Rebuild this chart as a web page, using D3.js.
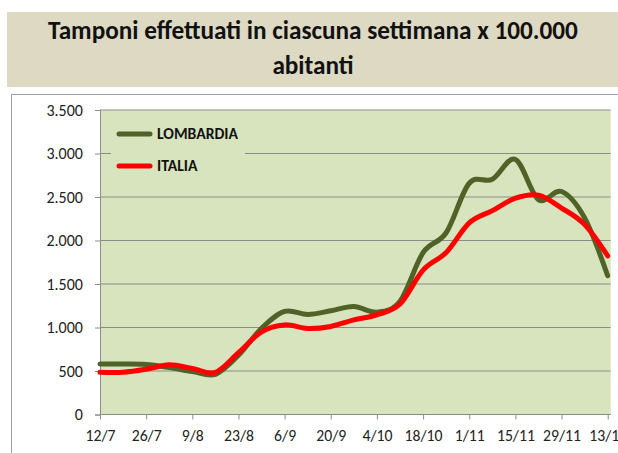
<!DOCTYPE html>
<html><head><meta charset="utf-8">
<script src="https://cdn.jsdelivr.net/npm/d3@7/dist/d3.min.js"></script>
<style>
html,body{margin:0;padding:0;background:#fff;}
svg{display:block;}
</style></head>
<body><svg id="c" width="618" height="453"></svg>
<script>
const titleLines = ["Tamponi effettuati in ciascuna settimana x 100.000", "abitanti"];
const weeks = ["12/7","19/7","26/7","2/8","9/8","16/8","23/8","30/8","6/9","13/9","20/9","27/9","4/10","11/10","18/10","25/10","1/11","8/11","15/11","22/11","29/11","6/12","13/12"];
const tickLabels = ["12/7","26/7","9/8","23/8","6/9","20/9","4/10","18/10","1/11","15/11","29/11","13/12"];
const lombardia = [580,580,575,540,495,462,680,990,1185,1150,1192,1242,1175,1300,1861,2089,2658,2704,2932,2470,2563,2260,1595];
const italia = [485,485,520,572,530,485,710,950,1030,988,1012,1088,1146,1270,1660,1861,2202,2343,2487,2521,2373,2184,1823];
const yTicks = [0,500,1000,1500,2000,2500,3000,3500];
const seriesNames = ["LOMBARDIA","ITALIA"];
const seriesColors = ["#4F6228","#FF0000"];

(function(){
const svg = d3.select("#c");
const font = "Carlito, Calibri, 'Liberation Sans', Arial, sans-serif";

function fitSize(str, weight, target){
  const t = svg.append("text").attr("font-family",font).attr("font-weight",weight).attr("font-size",20).text(str);
  const w = t.node().getComputedTextLength();
  t.remove();
  return 20*target/w;
}

svg.append("rect").attr("x",7).attr("y",12).attr("width",611).attr("height",75).attr("fill","#DDD9C3");
const fs = fitSize(titleLines[0],"bold",530);
svg.append("text").attr("x",313).attr("y",39).attr("text-anchor","middle")
  .attr("font-family",font).attr("font-weight","bold").attr("font-size",fs).attr("fill","#111").text(titleLines[0]);
svg.append("text").attr("x",313).attr("y",74).attr("text-anchor","middle")
  .attr("font-family",font).attr("font-weight","bold").attr("font-size",fs).attr("fill","#111").text(titleLines[1]);

svg.append("rect").attr("x",11.5).attr("y",94.5).attr("width",640).attr("height",400)
  .attr("fill","#fff").attr("stroke","#A0A0A0").attr("stroke-width",1);

const pl=100, pr=610.7, pt=110, pb=414.5;
const x = d3.scalePoint().domain(weeks).range([pl, 607.7]);
const y = d3.scaleLinear().domain([0,3500]).range([pb, pt]);

svg.append("rect").attr("x",pl).attr("y",pt).attr("width",pr-pl).attr("height",pb-pt).attr("fill","#D7E4BD");

svg.append("g").selectAll("line").data(yTicks.filter(d=>d>0)).join("line")
  .attr("x1",pl).attr("x2",pr).attr("y1",d=>y(d)).attr("y2",d=>y(d))
  .attr("stroke","#8C8C8C").attr("stroke-width",1);

const yfs = fitSize("3.500","normal",36.6);
const yAxis = svg.append("g").attr("transform",`translate(${pl},0)`)
  .call(d3.axisLeft(y).tickValues(yTicks).tickSize(5).tickPadding(12).tickFormat(d=>d3.format(",")(d).replace(/,/g,".")));
yAxis.select(".domain").attr("stroke","#8C8C8C");
yAxis.selectAll(".tick line").attr("stroke","#8C8C8C");
yAxis.selectAll("text").attr("font-family",font).attr("font-size",yfs).attr("fill","#222");

const xfs = fitSize("12/7","normal",30);
const xAxis = svg.append("g").attr("transform",`translate(0,${pb})`)
  .call(d3.axisBottom(x).tickValues(tickLabels).tickSize(5).tickPadding(10));
xAxis.select(".domain").attr("d",`M${pl},0H${pr}`).attr("stroke","#8C8C8C");
xAxis.selectAll(".tick line").attr("stroke","#8C8C8C");
xAxis.selectAll("text").attr("font-family",font).attr("font-size",xfs).attr("fill","#222");

const line = d3.line().x((d,i)=>x(weeks[i])).y(d=>y(d)).curve(d3.curveCardinal.tension(0));
[lombardia, italia].forEach((s,k)=>{
  svg.append("path").attr("d",line(s)).attr("fill","none").attr("stroke",seriesColors[k])
    .attr("stroke-width",5).attr("stroke-linejoin","round").attr("stroke-linecap","round");
});

const lfs = fitSize("LOMBARDIA","bold",81);
svg.append("rect").attr("x",111).attr("y",120).attr("width",134).attr("height",60).attr("fill","#D7E4BD");
seriesNames.forEach((n,k)=>{
  const ly = 134 + k*32;
  svg.append("line").attr("x1",119).attr("x2",150).attr("y1",ly).attr("y2",ly)
    .attr("stroke",seriesColors[k]).attr("stroke-width",5).attr("stroke-linecap","round");
  svg.append("text").attr("x",157).attr("y",ly+5).attr("font-family",font).attr("font-weight","bold")
    .attr("font-size",lfs).attr("fill","#111").text(n);
});
})();
</script></body></html>
